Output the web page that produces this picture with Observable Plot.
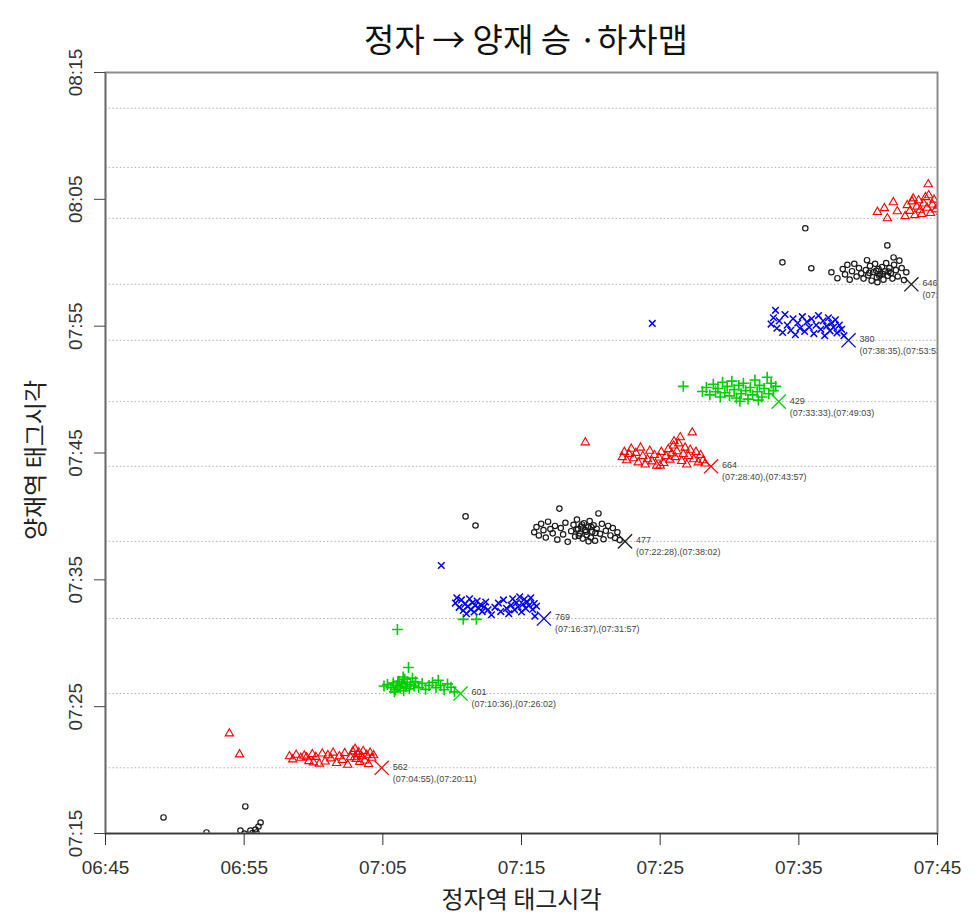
<!DOCTYPE html>
<html><head><meta charset="utf-8">
<script src="https://cdn.jsdelivr.net/npm/d3@7"></script>
<script src="https://cdn.jsdelivr.net/npm/@observablehq/plot@0.6"></script>
<style>
body{margin:0;background:#fff;width:978px;height:922px;overflow:hidden;position:relative}
#title{position:absolute;left:0;top:16px;width:978px;height:44px;display:flex;align-items:center;justify-content:center;padding-left:74px;box-sizing:border-box;font-family:"Noto Sans CJK KR","Noto Sans",sans-serif;font-size:33px;color:#111;z-index:2}
#chart svg{display:block}
</style></head><body>
<div id="chart"></div>
<div id="title"></div>
<script>
// ---- data: [정자역 태그시각, 양재역 태그시각] per train ----
const trainA = [["06:49:11","07:16:16"],["06:52:17","07:15:05"],["06:55:05","07:17:08"],["06:54:44","07:15:14"],["06:55:01","07:15:00"],["06:55:27","07:15:14"],["06:55:49","07:15:19"],["06:56:02","07:15:33"],["06:56:11","07:15:52"],["06:55:53","07:15:05"],["06:55:36","07:15:02"],["06:55:15","07:14:50"]];
const train562 = [["06:53:56","07:22:53"],["06:54:40","07:21:14"],["06:58:16","07:21:05"],["06:58:30","07:20:50"],["06:58:45","07:21:12"],["06:59:05","07:20:58"],["06:59:20","07:21:08"],["06:59:30","07:21:00"],["06:59:40","07:20:42"],["06:59:55","07:21:15"],["07:00:00","07:20:36"],["07:00:10","07:21:02"],["07:00:25","07:20:30"],["07:00:38","07:21:18"],["07:00:50","07:20:40"],["07:01:02","07:21:10"],["07:01:15","07:20:55"],["07:01:25","07:21:22"],["07:01:40","07:20:33"],["07:01:52","07:21:05"],["07:02:05","07:20:48"],["07:02:15","07:21:20"],["07:02:28","07:20:25"],["07:02:40","07:21:00"],["07:02:50","07:21:28"],["07:02:58","07:21:00"],["07:03:00","07:21:40"],["07:03:05","07:20:52"],["07:03:12","07:21:15"],["07:03:15","07:21:25"],["07:03:20","07:20:38"],["07:03:28","07:21:05"],["07:03:35","07:21:30"],["07:03:42","07:20:45"],["07:03:50","07:21:12"],["07:03:58","07:20:28"],["07:04:05","07:21:22"],["07:04:12","07:20:58"],["07:04:20","07:21:10"]];
const train601 = [["07:06:03","07:31:05"],["07:10:48","07:31:53"],["07:11:45","07:31:53"],["07:05:05","07:26:38"],["07:05:20","07:26:45"],["07:05:35","07:26:30"],["07:05:45","07:26:52"],["07:05:50","07:26:10"],["07:05:55","07:26:20"],["07:06:02","07:26:40"],["07:06:05","07:26:58"],["07:06:10","07:27:00"],["07:06:15","07:26:28"],["07:06:22","07:26:48"],["07:06:28","07:27:20"],["07:06:30","07:26:15"],["07:06:35","07:27:10"],["07:06:40","07:26:35"],["07:06:45","07:26:55"],["07:06:51","07:28:05"],["07:06:55","07:26:25"],["07:07:00","07:26:45"],["07:07:08","07:27:15"],["07:07:15","07:26:38"],["07:07:22","07:26:58"],["07:07:35","07:26:30"],["07:07:50","07:26:50"],["07:08:05","07:26:22"],["07:08:20","07:26:40"],["07:08:35","07:26:55"],["07:08:50","07:26:30"],["07:09:00","07:27:05"],["07:09:10","07:26:40"],["07:09:25","07:26:20"],["07:09:40","07:26:48"],["07:09:55","07:26:32"],["07:10:10","07:26:10"]];
const train769 = [["07:09:13","07:36:08"],["07:10:14","07:33:10"],["07:10:20","07:33:35"],["07:10:30","07:32:50"],["07:10:40","07:33:25"],["07:10:48","07:32:35"],["07:10:55","07:33:05"],["07:11:02","07:32:20"],["07:11:08","07:32:55"],["07:11:15","07:33:30"],["07:11:20","07:32:40"],["07:11:28","07:33:12"],["07:11:35","07:32:28"],["07:11:40","07:32:58"],["07:11:48","07:33:20"],["07:11:55","07:32:45"],["07:12:02","07:33:02"],["07:12:10","07:32:30"],["07:12:18","07:32:52"],["07:12:25","07:33:15"],["07:12:35","07:32:38"],["07:12:50","07:32:15"],["07:13:05","07:32:50"],["07:13:20","07:33:10"],["07:13:30","07:32:30"],["07:13:42","07:33:25"],["07:13:55","07:32:45"],["07:14:05","07:32:20"],["07:14:15","07:33:00"],["07:14:22","07:33:30"],["07:14:30","07:32:38"],["07:14:38","07:33:12"],["07:14:45","07:32:52"],["07:14:52","07:33:40"],["07:15:00","07:32:28"],["07:15:06","07:33:05"],["07:15:12","07:33:28"],["07:15:18","07:32:45"],["07:15:25","07:33:15"],["07:15:32","07:32:58"],["07:15:40","07:33:35"],["07:15:48","07:32:40"],["07:15:55","07:33:08"],["07:15:58","07:32:08"],["07:16:05","07:32:55"]];
const train477 = [["07:10:58","07:40:00"],["07:11:41","07:39:17"],["07:15:55","07:38:45"],["07:16:05","07:39:10"],["07:16:15","07:38:30"],["07:16:25","07:39:25"],["07:16:35","07:38:55"],["07:16:45","07:38:20"],["07:16:55","07:39:35"],["07:17:05","07:39:00"],["07:17:15","07:38:40"],["07:17:25","07:39:15"],["07:17:35","07:38:10"],["07:17:44","07:40:37"],["07:17:50","07:39:05"],["07:18:00","07:38:35"],["07:18:10","07:39:30"],["07:18:20","07:38:00"],["07:18:35","07:38:50"],["07:18:45","07:39:20"],["07:18:52","07:38:25"],["07:19:00","07:39:45"],["07:19:05","07:39:00"],["07:19:12","07:38:40"],["07:19:18","07:39:12"],["07:19:25","07:38:15"],["07:19:30","07:39:28"],["07:19:36","07:38:55"],["07:19:42","07:38:32"],["07:19:48","07:39:08"],["07:19:50","07:38:02"],["07:19:55","07:39:38"],["07:20:00","07:38:20"],["07:20:06","07:38:48"],["07:20:12","07:39:18"],["07:20:18","07:38:05"],["07:20:25","07:39:02"],["07:20:33","07:40:14"],["07:20:40","07:38:38"],["07:20:48","07:39:25"],["07:20:55","07:38:12"],["07:21:05","07:38:52"],["07:21:15","07:39:15"],["07:21:25","07:38:30"],["07:21:35","07:39:05"],["07:21:45","07:38:18"],["07:21:55","07:38:45"],["07:22:05","07:38:08"],["07:18:58","07:38:58"],["07:19:22","07:39:22"],["07:19:40","07:38:48"],["07:20:02","07:39:10"],["07:20:20","07:38:42"],["07:19:08","07:38:28"]];
const train664 = [["07:19:36","07:45:50"],["07:22:16","07:44:40"],["07:22:25","07:45:05"],["07:22:35","07:44:25"],["07:22:45","07:44:55"],["07:22:55","07:45:20"],["07:23:05","07:44:35"],["07:23:15","07:45:00"],["07:23:25","07:44:15"],["07:23:35","07:45:25"],["07:23:45","07:44:45"],["07:23:55","07:44:05"],["07:24:05","07:44:30"],["07:24:15","07:45:10"],["07:24:25","07:44:20"],["07:24:35","07:44:50"],["07:24:45","07:44:00"],["07:24:55","07:44:38"],["07:25:00","07:44:00"],["07:25:05","07:45:05"],["07:25:15","07:44:12"],["07:25:25","07:44:45"],["07:25:35","07:45:18"],["07:25:42","07:44:28"],["07:25:50","07:44:58"],["07:25:58","07:45:35"],["07:26:00","07:45:55"],["07:26:05","07:44:40"],["07:26:12","07:45:08"],["07:26:20","07:45:45"],["07:26:27","07:46:14"],["07:26:33","07:44:22"],["07:26:40","07:44:55"],["07:26:48","07:45:25"],["07:26:55","07:44:05"],["07:27:02","07:44:45"],["07:27:10","07:45:15"],["07:27:19","07:46:37"],["07:27:25","07:44:30"],["07:27:35","07:45:05"],["07:27:45","07:44:15"],["07:27:55","07:44:50"],["07:28:05","07:44:25"],["07:28:15","07:44:10"]];
const train429 = [["07:26:40","07:50:15"],["07:28:03","07:49:51"],["07:28:20","07:50:10"],["07:28:35","07:49:35"],["07:28:50","07:50:25"],["07:29:00","07:49:50"],["07:29:10","07:50:05"],["07:29:20","07:49:25"],["07:29:30","07:50:35"],["07:29:40","07:49:45"],["07:29:50","07:50:15"],["07:30:00","07:49:30"],["07:30:10","07:50:40"],["07:30:20","07:50:00"],["07:30:30","07:49:20"],["07:30:40","07:50:20"],["07:30:45","07:49:05"],["07:30:50","07:49:40"],["07:31:00","07:50:30"],["07:31:10","07:49:55"],["07:31:20","07:49:15"],["07:31:30","07:50:10"],["07:31:40","07:49:35"],["07:31:50","07:50:45"],["07:32:00","07:49:50"],["07:32:05","07:49:10"],["07:32:10","07:50:20"],["07:32:20","07:49:25"],["07:32:30","07:50:05"],["07:32:43","07:50:58"],["07:32:50","07:49:40"],["07:33:00","07:50:30"],["07:33:10","07:49:55"],["07:33:20","07:50:15"]];
const train380 = [["07:24:26","07:55:13"],["07:33:00","07:55:10"],["07:33:10","07:55:40"],["07:33:19","07:56:15"],["07:33:25","07:54:50"],["07:33:35","07:55:25"],["07:33:50","07:54:30"],["07:34:00","07:55:55"],["07:34:10","07:55:05"],["07:34:25","07:54:40"],["07:34:35","07:55:35"],["07:34:45","07:54:20"],["07:34:55","07:55:15"],["07:35:05","07:54:50"],["07:35:15","07:55:45"],["07:35:25","07:54:35"],["07:35:35","07:55:20"],["07:35:45","07:54:55"],["07:35:55","07:55:35"],["07:36:05","07:54:25"],["07:36:15","07:55:05"],["07:36:25","07:55:50"],["07:36:35","07:54:45"],["07:36:45","07:55:25"],["07:36:52","07:54:15"],["07:37:00","07:55:00"],["07:37:08","07:55:40"],["07:37:15","07:54:38"],["07:37:22","07:55:15"],["07:37:30","07:54:55"],["07:37:38","07:55:30"],["07:37:45","07:54:28"],["07:37:55","07:55:05"],["07:38:05","07:54:45"],["07:38:15","07:54:15"]];
const train646 = [["07:33:49","08:00:02"],["07:35:28","08:02:43"],["07:35:54","07:59:34"],["07:37:21","07:59:15"],["07:37:47","07:58:47"],["07:38:10","07:59:30"],["07:38:20","07:59:05"],["07:38:30","07:59:50"],["07:38:40","07:58:40"],["07:38:50","07:59:20"],["07:39:00","07:59:55"],["07:39:10","07:58:55"],["07:39:20","07:59:35"],["07:39:30","07:59:10"],["07:39:40","07:58:45"],["07:39:50","07:59:25"],["07:39:55","08:00:12"],["07:40:00","07:59:00"],["07:40:08","07:59:45"],["07:40:15","07:58:35"],["07:40:22","07:59:15"],["07:40:30","07:59:55"],["07:40:38","07:58:50"],["07:40:40","07:58:28"],["07:40:45","07:59:30"],["07:40:52","07:59:05"],["07:41:00","07:59:40"],["07:41:06","07:58:40"],["07:41:12","07:59:20"],["07:41:18","07:59:58"],["07:41:23","08:01:22"],["07:41:25","07:58:58"],["07:41:32","07:59:35"],["07:41:38","07:59:10"],["07:41:45","07:58:45"],["07:41:50","08:00:25"],["07:41:52","07:59:50"],["07:42:00","07:59:25"],["07:42:08","07:58:55"],["07:42:15","08:00:10"],["07:42:25","07:59:35"],["07:42:35","07:58:38"],["07:42:45","07:59:15"],["07:40:05","07:59:12"],["07:40:35","07:59:22"],["07:41:02","07:59:08"],["07:41:28","07:59:18"],["07:40:48","07:58:58"]];
const trainNext = [["07:40:40","08:04:00"],["07:41:10","08:04:18"],["07:41:23","08:03:30"],["07:41:49","08:04:46"],["07:42:06","08:04:03"],["07:42:40","08:03:40"],["07:42:49","08:04:32"],["07:43:00","08:04:05"],["07:43:10","08:04:50"],["07:43:15","08:05:04"],["07:43:22","08:03:45"],["07:43:30","08:04:25"],["07:43:38","08:04:55"],["07:43:45","08:04:10"],["07:43:52","08:03:50"],["07:44:00","08:04:40"],["07:44:08","08:05:10"],["07:44:15","08:04:20"],["07:44:20","08:06:11"],["07:44:22","08:05:19"],["07:44:30","08:03:55"],["07:44:38","08:04:35"],["07:44:45","08:04:58"],["07:44:52","08:04:12"],["07:45:05","08:04:30"],["07:45:15","08:04:00"]];

// train labels: id, (정자 출발), (양재 도착)
const trainIds   = ["562","601","769","477","664","429","380","646"];
const departTimes = ["07:04:55","07:10:36","07:16:37","07:22:28","07:28:40","07:33:33","07:38:35","07:43:07"];
const arriveTimes = ["07:20:11","07:26:02","07:31:57","07:38:02","07:43:57","07:49:03","07:53:53","07:58:18"];
const laterArrivals = ["08:03:30","08:07:31","08:12:11"];

const xTicks = ["06:45","06:55","07:05","07:15","07:25","07:35","07:45"];
const yTicks = ["07:15","07:25","07:35","07:45","07:55","08:05","08:15"];

const titleText = "정자 → 양재 승 ·하차맵";
const xTitle = "정자역 태그시각";
const yTitle = "양재역 태그시각";

// ---- build ----
const parse = s => new Date(`2000-01-01T${s.length === 5 ? s + ":00" : s}Z`);
const fmt = d3.utcFormat("%H:%M");
const series = [trainA, train562, train601, train769, train477, train664, train429, train380, train646, trainNext];
const styles = [
  {stroke: "#1a1a1a", symbol: "circle", r: 2.7, strokeWidth: 1.2},
  {stroke: "#ff0000", symbol: "triangle", r: 3.1, strokeWidth: 1.1},
  {stroke: "#00cd00", symbol: "plus", r: 3.6, strokeWidth: 1.6},
  {stroke: "#0000ff", symbol: "times", r: 3.1, strokeWidth: 1.5}
];
const labels = trainIds.map((id, i) => ({id, dep: departTimes[i], arr: arriveTimes[i], x: parse(departTimes[i]), y: parse(arriveTimes[i]), k: i + 1}));
const grid = arriveTimes.concat(laterArrivals).map(parse);

const marks = [
  Plot.ruleY(grid, {stroke: "#b0b0b0", strokeDasharray: "1.5,2.2", strokeWidth: 1})
];
series.forEach((pts, i) => {
  const st = styles[i % 4];
  marks.push(Plot.dot(pts.map(([a, b]) => ({x: parse(a), y: parse(b)})), {
    x: "x", y: "y", symbol: st.symbol, r: st.r, stroke: st.stroke, strokeWidth: st.strokeWidth, fill: "none", clip: true
  }));
});
labels.forEach(l => {
  const st = styles[l.k % 4];
  marks.push(Plot.dot([l], {x: "x", y: "y", symbol: "times", r: 6.5, stroke: st.stroke, strokeWidth: 1.3, clip: true}));
});
marks.push(
  Plot.text(labels, {x: "x", y: "y", text: "id", dx: 11, dy: -1, textAnchor: "start", fontSize: 9, fill: "#444", clip: true}),
  Plot.text(labels, {x: "x", y: "y", text: d => `(${d.dep}),(${d.arr})`, dx: 11, dy: 11, textAnchor: "start", fontSize: 9, fill: "#444", clip: true}),
  Plot.frame({stroke: "#8c8c8c", strokeWidth: 2}),
  Plot.ruleY([parse(yTicks[0])], {stroke: "#3a3a3a", strokeWidth: 1.5}),
  Plot.ruleX([parse(xTicks[0])], {stroke: "#6a6a6a", strokeWidth: 1.5}),
  Plot.axisX({ticks: xTicks.map(parse), tickSize: 12, tickPadding: 15, tickFormat: fmt, fontSize: 19, label: null, stroke: "#333"}),
  Plot.axisY({ticks: yTicks.map(parse), tickSize: 11, tickFormat: () => "", label: null, stroke: "#444"}),
  Plot.text(yTicks.map(parse), {y: d => d, text: d => fmt(d), frameAnchor: "left", textAnchor: "middle", lineAnchor: "middle", dx: -30, rotate: -90, fontSize: 19, fill: "#333"}),
  Plot.text([xTitle], {frameAnchor: "bottom", textAnchor: "middle", lineAnchor: "middle", dy: 67, fontSize: 24, fill: "#222", fontFamily: "Noto Sans CJK KR"}),
  Plot.text([yTitle], {frameAnchor: "left", textAnchor: "middle", lineAnchor: "middle", dx: -69, dy: 7, rotate: -90, fontSize: 24, fill: "#222", fontFamily: "Noto Sans CJK KR"})
);

const chart = Plot.plot({
  width: 978,
  height: 922,
  marginTop: 72,
  marginBottom: 89,
  marginLeft: 105,
  marginRight: 41,
  style: {fontFamily: "'Liberation Sans', Arial, sans-serif", color: "#333", background: "#fff"},
  x: {type: "utc", domain: [parse("06:45"), parse("07:45")]},
  y: {type: "utc", domain: [parse("07:15"), parse("08:15")]},
  marks
});
document.getElementById("chart").appendChild(chart);
document.getElementById("title").textContent = titleText;
</script>
</body></html>
